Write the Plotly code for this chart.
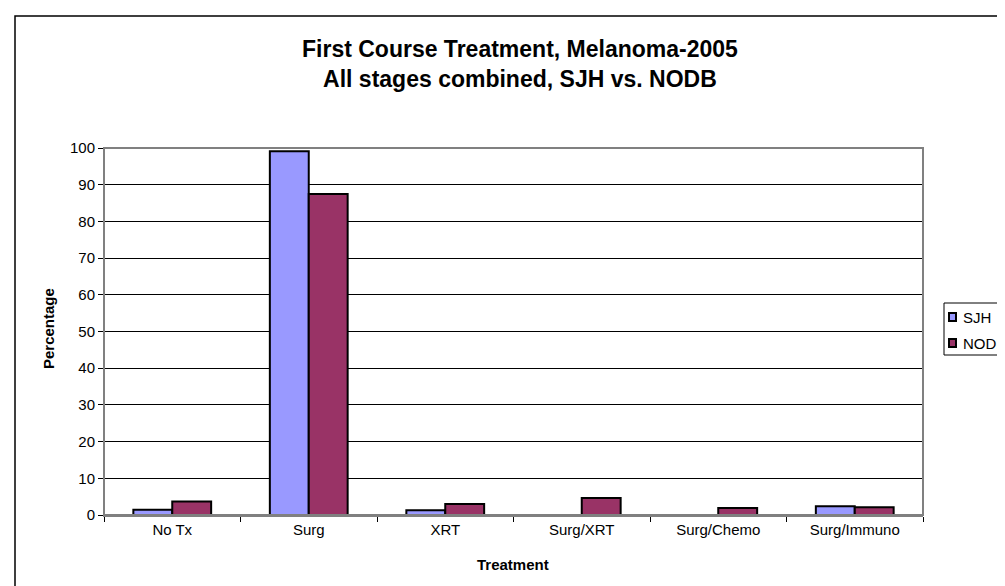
import plotly.graph_objects as go

categories = ["No Tx", "Surg", "XRT", "Surg/XRT", "Surg/Chemo", "Surg/Immuno"]
sjh = [1.4, 99.1, 1.3, 0, 0, 2.4]
nodb = [3.7, 87.5, 3.0, 4.6, 1.9, 2.1]
y_ticks = [0, 10, 20, 30, 40, 50, 60, 70, 80, 90, 100]
series_names = ["SJH", "NODB"]
series_colors = ["#9999FF", "#993366"]

W, H = 1005, 586
L, R, T, B = 96, 915, 140, 507

def px(x):
    return (x - L) / (R - L)

def py(y):
    return (B - y) / (B - T)

FONT = "Arial, 'Liberation Sans', sans-serif"

fig = go.Figure()
for name, vals, col in zip(series_names, [sjh, nodb], series_colors):
    fig.add_trace(go.Bar(name=name, x=categories, y=vals, showlegend=False,
                         marker=dict(color=col, line=dict(color="#000000", width=2))))

shapes = [
    dict(type="rect", xref="paper", yref="paper", x0=0, x1=1, y0=0, y1=1,
         line=dict(color="#808080", width=2), layer="above"),
    dict(type="rect", xref="paper", yref="paper", x0=px(7), x1=px(1100), y0=py(700), y1=py(8),
         line=dict(color="#000000", width=1.5), layer="above"),
    # legend box
    dict(type="rect", xref="paper", yref="paper", x0=px(936), x1=px(1100), y0=py(347), y1=py(295),
         line=dict(color="#000000", width=1), fillcolor="white", layer="above"),
]
annotations = [
    dict(text="<b>First Course Treatment, Melanoma-2005<br>All stages combined, SJH vs. NODB</b>",
         xref="paper", yref="paper", x=px(512), y=py(56), xanchor="center", yanchor="middle",
         showarrow=False, font=dict(size=23, family=FONT)),
    dict(text="<b>Treatment</b>", xref="paper", yref="paper", x=px(505), y=py(556),
         xanchor="center", yanchor="middle", showarrow=False, font=dict(size=15, family=FONT)),
    dict(text="<b>Percentage</b>", xref="paper", yref="paper", x=px(40), y=py(320),
         xanchor="center", yanchor="middle", textangle=-90, showarrow=False,
         font=dict(size=15, family=FONT)),
]
for i, (name, col) in enumerate(zip(series_names, series_colors)):
    yc = 309 + 26 * i
    shapes.append(dict(type="rect", xref="paper", yref="paper",
                       x0=px(941), x1=px(948), y0=py(yc + 4), y1=py(yc - 4),
                       fillcolor=col, line=dict(color="#000000", width=2), layer="above"))
    annotations.append(dict(text=name, xref="paper", yref="paper", x=px(953), y=py(yc),
                            xanchor="left", yanchor="middle", showarrow=False,
                            font=dict(size=15, family=FONT)))

fig.update_layout(
    width=W, height=H,
    margin=dict(l=L, r=W - R, t=T, b=H - B, autoexpand=False),
    paper_bgcolor="white", plot_bgcolor="white",
    font=dict(family=FONT, size=15, color="#000000"),
    barmode="group", bargap=0.43, bargroupgap=0,
    showlegend=False,
    xaxis=dict(type="category", showgrid=False, ticks="outside", tickson="boundaries",
               ticklen=5, tickcolor="#000000", showline=True, linecolor="#808080",
               linewidth=2, tickfont=dict(size=15, family=FONT)),
    yaxis=dict(range=[0, 100], tickvals=y_ticks, ticks="outside", ticklen=5,
               tickcolor="#000000", showgrid=True, gridcolor="#000000", gridwidth=1,
               showline=True, linecolor="#000000", linewidth=1, zeroline=False,
               tickfont=dict(size=15, family=FONT)),
    shapes=shapes,
    annotations=annotations,
)

fig.write_html("out.html")
